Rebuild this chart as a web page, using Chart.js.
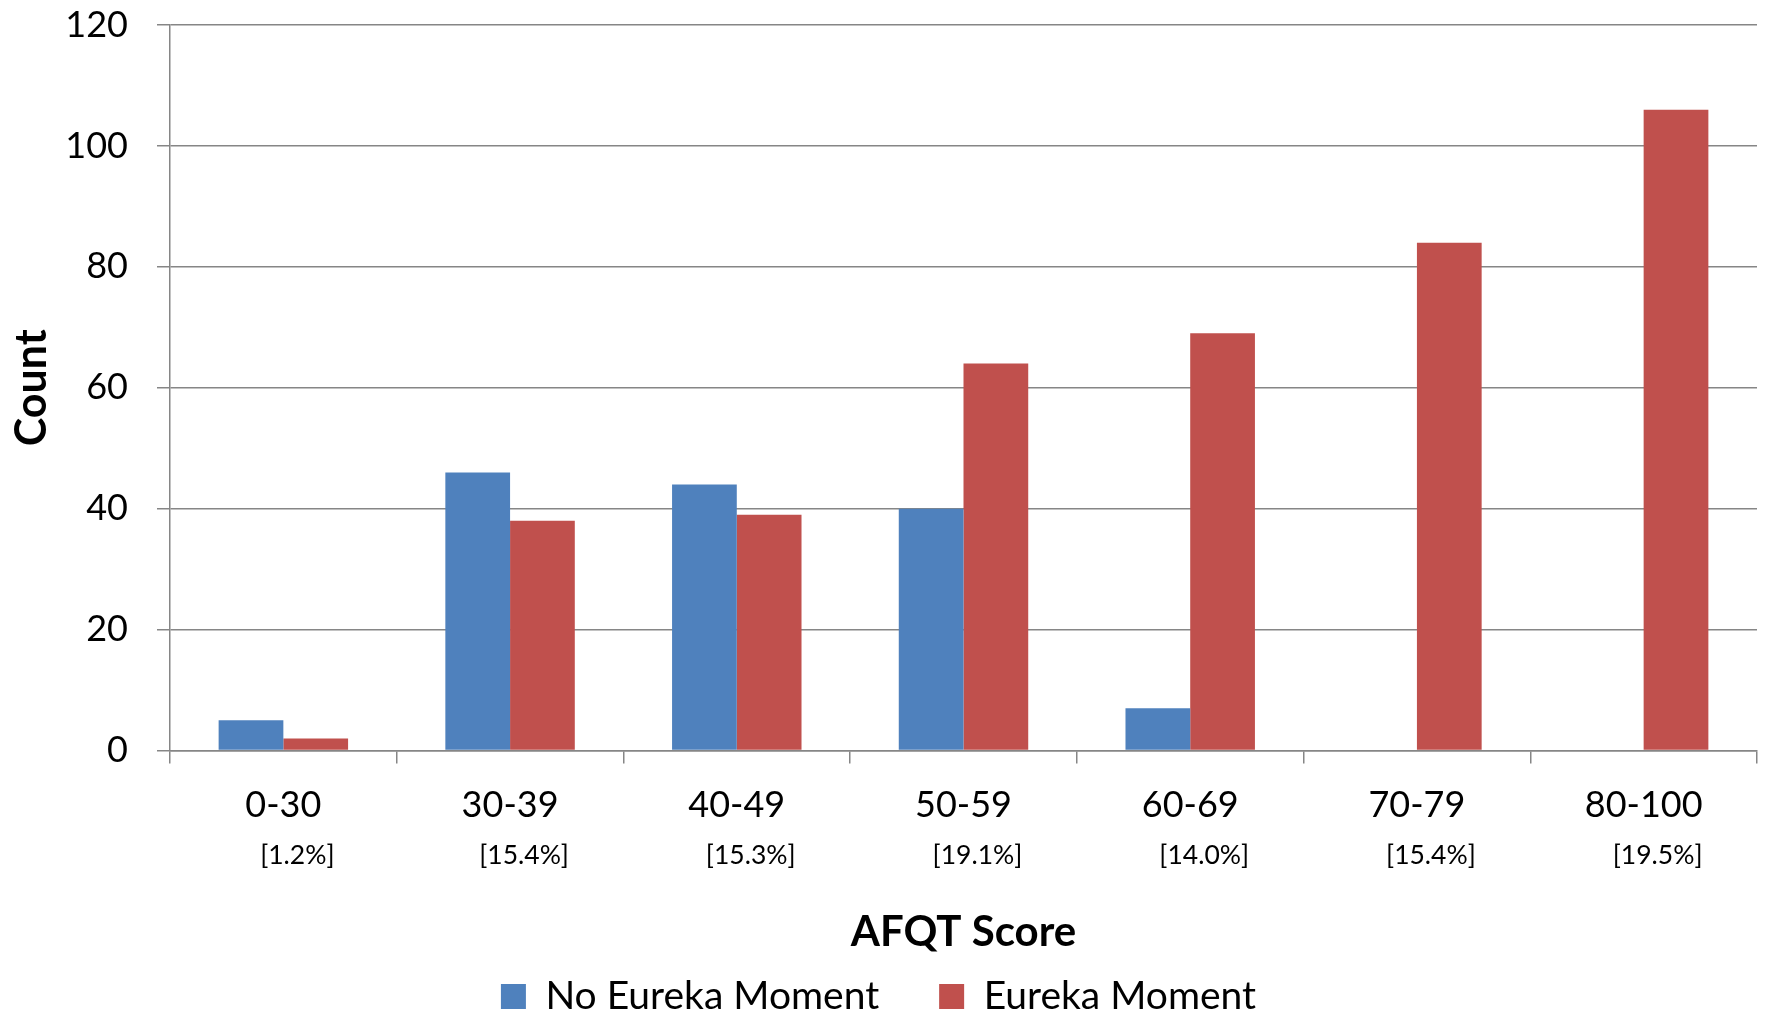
<!DOCTYPE html>
<html>
<head>
<meta charset="utf-8">
<script src="https://cdn.jsdelivr.net/npm/chart.js@4/dist/chart.umd.min.js"></script>
<style>
  html, body { margin: 0; padding: 0; background: #fff; }
  #wrap { width: 1765px; height: 1016px; position: relative; }
</style>
</head>
<body>
<div id="wrap"><canvas id="c" width="1765" height="1016"></canvas></div>
<script>
const categories = ["0-30", "30-39", "40-49", "50-59", "60-69", "70-79", "80-100"];
const shareLabels = ["[1.2%]", "[15.4%]", "[15.3%]", "[19.1%]", "[14.0%]", "[15.4%]", "[19.5%]"];
const noEureka = [5, 46, 44, 40, 7, 0, 0];
const eureka = [2, 38, 39, 64, 69, 84, 106];
const yTicks = [0, 20, 40, 60, 80, 100, 120];

const FONT = "Lato, 'Open Sans', sans-serif";
const GRID = '#868686';

new Chart(document.getElementById('c'), {
  type: 'bar',
  data: {
    labels: categories,
    datasets: [
      { label: 'No Eureka Moment', data: noEureka, backgroundColor: '#4F81BD', borderWidth: 0,
        categoryPercentage: 0.571, barPercentage: 1.0, xAxisID: 'x' },
      { label: 'Eureka Moment', data: eureka, backgroundColor: '#C0504D', borderWidth: 0,
        categoryPercentage: 0.571, barPercentage: 1.0, xAxisID: 'x' }
    ]
  },
  options: {
    responsive: false,
    animation: false,
    devicePixelRatio: 1,
    layout: { padding: { top: 25, right: 8, left: 0, bottom: -10 } },
    plugins: {
      tooltip: { enabled: false },
      legend: {
        position: 'bottom',
        labels: {
          font: { family: FONT, size: 39 },
          color: '#000',
          boxWidth: 25, boxHeight: 25,
          padding: 60
        }
      }
    },
    scales: {
      y: {
        min: 0, max: 120,
        afterBuildTicks: (s) => { s.ticks = yTicks.map(v => ({ value: v })); },
        afterFit: (s) => { s.width = 170; s.paddingTop = 0; s.paddingBottom = 0; },
        border: { display: true, color: GRID, width: 1.5 },
        grid: { color: GRID, lineWidth: 1.5, tickLength: 13, drawTicks: true },
        ticks: { font: { family: FONT, size: 36 }, color: '#000', padding: 29 },
        title: { display: true, text: 'Count', color: '#000',
                 font: { family: FONT, size: 43, weight: 'bold' }, padding: { top: 6, bottom: 0 } }
      },
      x: {
        weight: 1,
        offset: true,
        afterFit: (s) => { s.height = 80; },
        border: { display: true, color: GRID, width: 1.5 },
        grid: { display: true, drawOnChartArea: false, drawTicks: true, tickLength: 13, color: GRID, lineWidth: 1.5, offset: true },
        ticks: { font: { family: FONT, size: 36 }, color: '#000', padding: 20, maxRotation: 0 }
      },
      x2: {
        type: 'category',
        labels: shareLabels,
        position: 'bottom',
        weight: 2,
        offset: true,
        afterFit: (s) => { s.height = 86.5; },
        border: { display: false },
        grid: { display: false, drawTicks: false },
        ticks: { font: { family: FONT, size: 26.5 }, color: '#000', padding: 9, labelOffset: 14, maxRotation: 0 },
        title: { display: true, text: 'AFQT Score', color: '#000',
                 font: { family: FONT, size: 42, weight: 'bold' }, padding: { top: 0, bottom: -40.7 } }
      }
    }
  }
});
</script>
</body>
</html>
